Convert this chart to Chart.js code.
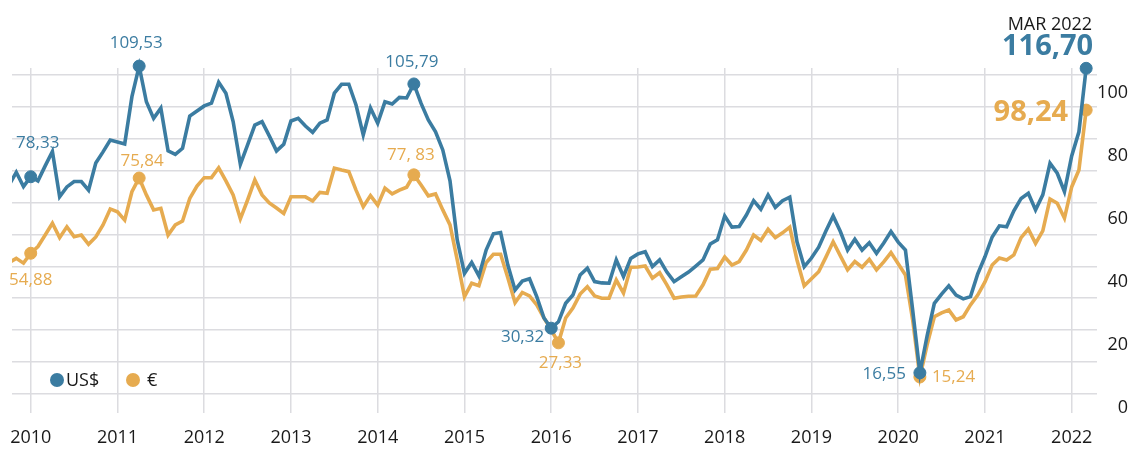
<!DOCTYPE html>
<html>
<head>
<meta charset="utf-8">
<script src="https://cdn.jsdelivr.net/npm/chart.js@4.4.1/dist/chart.umd.min.js"></script>
<style>
  html, body { margin: 0; padding: 0; background: #fff; }
  #wrap { width: 1128px; height: 450px; position: relative; }
</style>
</head>
<body>
<div id="wrap"><canvas id="g_petrole"></canvas></div>
<script>
// mois comptés depuis janvier 2010 (= 0), la série démarre en octobre 2009
const firstMonth = -3;
const years = [2010, 2011, 2012, 2013, 2014, 2015, 2016, 2017, 2018, 2019, 2020, 2021, 2022];
const yTickLabels = [0, 20, 40, 60, 80, 100];
const seriesNames = ['US$', '€'];

// prix mensuel en dollars (oct. 2009 -> mars 2022)
const usd = [
  75.5, 79.5, 75.0,
  78.1, 76.8, 81.5, 86.0, 71.8, 74.9, 76.6, 76.6, 73.9, 82.4, 85.9, 89.6,
  89.0, 88.4, 103.2, 112.8, 101.6, 96.4, 99.6, 86.2, 85.1, 87.0, 97.1, 98.7,
  100.3, 101.2, 107.7, 104.3, 95.4, 82.0, 88.1, 94.3, 95.4, 90.9, 86.2, 88.3,
  95.6, 96.4, 94.0, 92.0, 94.9, 95.9, 104.3, 107.1, 107.1, 100.6, 91.2, 99.7,
  94.9, 101.6, 100.9, 103.0, 102.8, 107.2, 101.1, 95.9, 92.2, 86.5, 76.8, 58.3,
  47.8, 51.2, 47.0, 55.1, 60.2, 60.6, 50.4, 42.6, 45.4, 46.1, 40.5, 33.8,
  30.6, 32.6, 38.4, 41.0, 47.3, 49.4, 45.2, 44.8, 44.7, 52.0, 46.8, 52.5,
  53.9, 54.6, 49.9, 52.0, 48.2, 45.2, 46.7, 48.2, 50.1, 52.0, 57.0, 58.3,
  65.8, 62.3, 62.5, 66.1, 70.6, 67.9, 72.4, 68.5, 70.6, 71.7, 57.7, 49.9,
  52.6, 56.0, 61.1, 65.8, 60.9, 55.1, 58.5, 55.1, 57.4, 54.1, 57.3, 60.9,
  57.6, 55.1, 36.3, 16.6, 28.2, 38.4, 41.3, 43.9, 41.0, 39.8, 40.5, 47.6,
  53.0, 59.2, 62.7, 62.4, 67.4, 71.3, 72.9, 67.7, 72.4, 82.3, 79.2, 73.4,
  84.6, 92.2, 112.1
];
// prix mensuel en euros
const eur = [
  51.1, 52.5, 51.0,
  54.1, 56.2, 59.8, 63.5, 59.0, 62.4, 59.3, 59.8, 56.9, 59.2, 63.0, 68.0,
  67.1, 64.5, 73.4, 77.7, 72.4, 67.7, 68.2, 59.8, 63.0, 64.2, 71.3, 75.2,
  77.8, 77.8, 80.9, 76.8, 72.4, 64.9, 70.8, 77.1, 72.4, 69.9, 68.3, 66.6,
  71.8, 71.8, 71.8, 70.5, 73.2, 72.9, 80.8, 80.2, 79.7, 73.9, 68.7, 72.2,
  69.2, 74.5, 72.7, 73.9, 74.8, 78.7, 75.5, 72.1, 72.7, 67.7, 63.0, 52.0,
  40.5, 44.7, 43.9, 51.2, 53.8, 53.8, 46.4, 38.6, 41.8, 40.7, 37.9, 33.8,
  30.1, 26.0, 33.8, 36.9, 41.3, 43.6, 40.7, 40.0, 40.0, 45.7, 41.6, 49.7,
  49.8, 50.1, 46.3, 48.0, 44.2, 40.0, 40.4, 40.6, 40.7, 44.2, 49.1, 49.3,
  52.9, 50.4, 51.5, 55.1, 59.8, 58.1, 61.6, 59.0, 60.5, 62.3, 52.0, 43.9,
  46.1, 48.3, 52.9, 57.7, 53.3, 48.9, 51.5, 49.7, 52.2, 48.9, 51.4, 54.3,
  50.8, 47.3, 33.2, 15.3, 25.4, 34.2, 35.4, 36.3, 33.2, 34.2, 37.9, 41.0,
  45.1, 50.4, 52.6, 52.0, 53.6, 59.0, 61.7, 57.2, 61.1, 71.1, 69.8, 65.1,
  74.9, 80.2, 99.0
];

// points mis en évidence (mois) et valeurs affichées
const usdMarks = [0, 15, 53, 72, 123, 146];
const usdNotes = ['78,33', '109,53', '105,79', '30,32', '16,55', '116,70'];
const eurMarks = [0, 15, 53, 73, 123, 146];
const eurNotes = ['54,88', '75,84', '77, 83', '27,33', '15,24', '98,24'];
const lastLabel = 'MAR 2022';

const BLUE = '#3b7ca1';
const ORANGE = '#e6ab50';
const GRID = '#dcdce0';
const INK = '#1a1a1a';
const FONT = "'Open Sans', sans-serif";

function toPoints(values) {
    return values.map(function(v, i) {
        return { x: firstMonth + i, y: v };
    });
}

function markRadius(marks) {
    return function(c) {
        return marks.includes(c.dataIndex + firstMonth) ? 6 : 0;
    };
}

// décalages des étiquettes par rapport au point
const usdStyle = [
    { dx: 7, dy: -34, align: 'center' },
    { dx: -3, dy: -23, align: 'center' },
    { dx: -2, dy: -22, align: 'center' },
    { dx: -7, dy: 9, align: 'right' },
    { dx: -14, dy: 1, align: 'right' },
    { dx: 7, dy: -22, align: 'right', big: true }
];
const eurStyle = [
    { dx: 0, dy: 27, align: 'center' },
    { dx: 3, dy: -17, align: 'center' },
    { dx: -3, dy: -20, align: 'center' },
    { dx: 2, dy: 20, align: 'center' },
    { dx: 12, dy: 0, align: 'left' },
    { dx: -18, dy: 3, align: 'right', big: true }
];

const notesPlugin = {
    id: 'notes',
    afterDatasetsDraw(chart) {
        const ctx = chart.ctx;
        ctx.save();
        ctx.textBaseline = 'middle';
        const groups = [
            { ds: 0, marks: usdMarks, notes: usdNotes, style: usdStyle, color: BLUE },
            { ds: 1, marks: eurMarks, notes: eurNotes, style: eurStyle, color: ORANGE }
        ];
        groups.forEach(function(g) {
            const meta = chart.getDatasetMeta(g.ds);
            g.marks.forEach(function(m, k) {
                const pt = meta.data[m - firstMonth];
                const s = g.style[k];
                ctx.fillStyle = g.color;
                ctx.textAlign = s.align;
                ctx.font = s.big ? "bold 29px " + FONT : "17px " + FONT;
                ctx.fillText(g.notes[k], pt.x + s.dx, pt.y + s.dy);
                if (g.ds === 0 && k === g.marks.length - 1) {
                    ctx.fillStyle = INK;
                    ctx.font = "18px " + FONT;
                    ctx.fillText(lastLabel, pt.x + 6, pt.y - 43);
                }
            });
        });
        ctx.restore();
    },
    afterDraw(chart) {
        // légende dans le coin bas gauche
        const ctx = chart.ctx;
        const area = chart.chartArea;
        const y = area.bottom - 33;
        let x = area.left + 45;
        ctx.save();
        ctx.font = "18px " + FONT;
        ctx.textBaseline = 'middle';
        ctx.textAlign = 'left';
        chart.data.datasets.forEach(function(d) {
            ctx.fillStyle = d.borderColor;
            ctx.beginPath();
            ctx.arc(x, y, 7, 0, Math.PI * 2);
            ctx.fill();
            ctx.fillStyle = INK;
            ctx.fillText(d.label, x + 9 + (d.label.length < 2 ? 5 : 0), y + 1);
            x += 76;
        });
        ctx.restore();
    }
};

const ctx = document.getElementById('g_petrole').getContext('2d');
const chart = new Chart(ctx, {
    type: 'line',
    data: {
        datasets: [
            {
                label: seriesNames[0],
                data: toPoints(usd),
                borderColor: BLUE,
                backgroundColor: BLUE,
                borderWidth: 3.6,
                pointRadius: markRadius(usdMarks),
                pointBorderWidth: 1,
                pointBackgroundColor: BLUE,
                pointBorderColor: BLUE,
                tension: 0,
                clip: { left: 0, top: 30, right: 30, bottom: 10 }
            },
            {
                label: seriesNames[1],
                data: toPoints(eur),
                borderColor: ORANGE,
                backgroundColor: ORANGE,
                borderWidth: 3.6,
                pointRadius: markRadius(eurMarks),
                pointBorderWidth: 1,
                pointBackgroundColor: ORANGE,
                pointBorderColor: ORANGE,
                tension: 0,
                clip: { left: 0, top: 30, right: 30, bottom: 10 }
            }
        ]
    },
    options: {
        responsive: true,
        maintainAspectRatio: false,
        animation: false,
        devicePixelRatio: 1,
        layout: { padding: { left: 12, top: 68, right: 0, bottom: 0 } },
        plugins: {
            legend: { display: false },
            tooltip: { enabled: false }
        },
        scales: {
            x: {
                type: 'linear',
                min: -2.59,
                max: 147.5,
                afterBuildTicks: function(scale) {
                    scale.ticks = years.map(function(y) { return { value: (y - 2010) * 12 }; });
                },
                afterFit: function(scale) {
                    scale.height = 37;
                    scale.paddingLeft = 0;
                    scale.paddingRight = 0;
                },
                grid: { color: GRID, lineWidth: 1.5, drawTicks: false },
                border: { display: false },
                ticks: {
                    padding: 14,
                    color: INK,
                    font: { family: FONT, size: 18 },
                    maxRotation: 0,
                    autoSkip: false,
                    callback: function(v) { return String(2010 + v / 12); }
                }
            },
            y: {
                position: 'left',
                min: 4.0,
                max: 112.2,
                afterBuildTicks: function(scale) {
                    const t = [];
                    for (let v = 10; v <= 110; v += 10) t.push({ value: v });
                    scale.ticks = t;
                },
                grid: { color: GRID, lineWidth: 1.5, drawTicks: false },
                border: { display: false },
                ticks: { display: false }
            },
            yLabels: {
                position: 'right',
                min: -1.59,
                max: 107.94,
                afterBuildTicks: function(scale) {
                    scale.ticks = yTickLabels.map(function(v) { return { value: v }; });
                },
                afterFit: function(scale) {
                    scale.width = 31;
                    scale.paddingTop = 0;
                    scale.paddingBottom = 0;
                },
                grid: { display: false, drawTicks: false },
                border: { display: false },
                ticks: {
                    padding: -5,
                    crossAlign: 'far',
                    color: INK,
                    font: { family: FONT, size: 18 }
                }
            }
        }
    },
    plugins: [notesPlugin]
});
</script>
</body>
</html>
